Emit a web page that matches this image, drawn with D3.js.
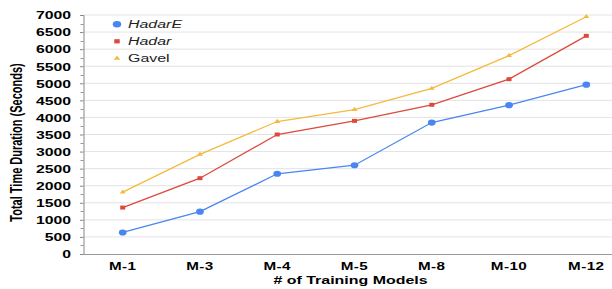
<!DOCTYPE html>
<html>
<head>
<meta charset="utf-8">
<script src="https://cdn.jsdelivr.net/npm/d3@7"></script>
<style>
  body { margin: 0; background: #fff; }
  text { font-family: Arial, "Liberation Sans", sans-serif; }
</style>
</head>
<body>
<div id="chart"></div>
<script>
// data
var models = ["M-1", "M-3", "M-4", "M-5", "M-8", "M-10", "M-12"];
var hadarE = [630, 1240, 2350, 2600, 3850, 4360, 4960];
var hadar = [1360, 2220, 3500, 3900, 4370, 5120, 6390];
var gavel = [1810, 2920, 3880, 4230, 4850, 5810, 6950];
var yTicks = [0, 500, 1000, 1500, 2000, 2500, 3000, 3500, 4000, 4500, 5000, 5500, 6000, 6500, 7000];
var seriesNames = ["HadarE", "Hadar", "Gavel"];

var svgWidth = 612;
var svgHeight = 289;
// the original image is stretched sideways, text too
var sx = 1.45;

var svg = d3.select("#chart")
  .append("svg")
  .attr("width", svgWidth)
  .attr("height", svgHeight);

var xScale = d3.scalePoint()
  .domain(models)
  .range([122.7, 586.3]);

var yScale = d3.scaleLinear()
  .domain([0, 7000])
  .range([254, 15]);

// gridlines
svg.append("g")
  .selectAll("line")
  .data(yTicks.slice(1))
  .enter()
  .append("line")
  .attr("x1", 84)
  .attr("x2", svgWidth)
  .attr("y1", d => yScale(d))
  .attr("y2", d => yScale(d))
  .attr("stroke", "#e3e3e3")
  .attr("stroke-width", 1);

// minor ticks on the y axis
var minor = d3.range(250, 7000, 500);
svg.append("g")
  .selectAll("line")
  .data(minor)
  .enter()
  .append("line")
  .attr("x1", 80.5)
  .attr("x2", 83.5)
  .attr("y1", d => Math.round(yScale(d)) + 0.5)
  .attr("y2", d => Math.round(yScale(d)) + 0.5)
  .attr("stroke", "#999");

// y axis
var leftAxis = d3.axisLeft(yScale)
  .tickValues(yTicks)
  .tickSize(3.5)
  .tickPadding(0)
  .tickFormat(d3.format("d"));

var yAxis = svg.append("g")
  .attr("transform", "translate(83.5,0)")
  .call(leftAxis);

yAxis.select(".domain").attr("stroke", "#888");
yAxis.selectAll(".tick line").attr("stroke", "#888");
yAxis.selectAll(".tick text")
  .attr("fill", "#000")
  .attr("font-size", "10.5px")
  .attr("font-weight", "bold")
  .attr("font-family", "Arial, 'Liberation Sans', sans-serif")
  .attr("x", null)
  .attr("dy", null)
  .attr("text-anchor", "end")
  .attr("transform", "translate(-12.5,3.8) scale(1.5,1)");

// x axis
svg.append("line")
  .attr("x1", 83)
  .attr("x2", svgWidth)
  .attr("y1", 254.5)
  .attr("y2", 254.5)
  .attr("stroke", "#999")
  .attr("stroke-width", 1.2);

svg.append("g")
  .selectAll("text")
  .data(models)
  .enter()
  .append("text")
  .attr("text-anchor", "middle")
  .attr("font-size", "10.5px")
  .attr("font-weight", "bold")
  .attr("letter-spacing", "0.3px")
  .attr("transform", d => "translate(" + xScale(d) + ",270) scale(" + sx + ",1)")
  .text(d => d);

// axis titles
svg.append("text")
  .attr("text-anchor", "middle")
  .attr("font-size", "11px")
  .attr("font-weight", "bold")
  .attr("transform", "translate(350.5,284) scale(" + sx + ",1)")
  .text("# of Training Models");

svg.append("text")
  .attr("text-anchor", "middle")
  .attr("font-size", "11px")
  .attr("font-weight", "bold")
  .attr("transform", "translate(21.5,142.5) rotate(-90) scale(1," + sx + ")")
  .text("Total Time Duration (Seconds)");

// lines and markers
var allSeries = [
  { name: "HadarE", values: hadarE, color: "#4a86f0", shape: d3.symbolCircle, size: 30, italic: true },
  { name: "Hadar", values: hadar, color: "#db4a3c", shape: d3.symbolSquare, size: 16, italic: true },
  { name: "Gavel", values: gavel, color: "#f4ba3e", shape: d3.symbolTriangle, size: 10, italic: false }
];

var line = d3.line()
  .x((d, i) => xScale(models[i]))
  .y(d => yScale(d));

allSeries.forEach(function(s) {
  svg.append("path")
    .datum(s.values)
    .attr("fill", "none")
    .attr("stroke", s.color)
    .attr("stroke-width", 1.3)
    .attr("d", line);

  svg.append("g")
    .selectAll("path")
    .data(s.values)
    .enter()
    .append("path")
    .attr("d", d3.symbol().type(s.shape).size(s.size))
    .attr("fill", s.color)
    .attr("transform", (d, i) => "translate(" + xScale(models[i]) + "," + yScale(d) + ") scale(1.25,1)");
});

// legend
var legend = svg.append("g");
allSeries.forEach(function(s, i) {
  var y = 24.3 + i * 17;
  legend.append("path")
    .attr("d", d3.symbol().type(s.shape).size(s.size * 1.1))
    .attr("fill", s.color)
    .attr("transform", "translate(117," + y + ") scale(1.3,1)");
  legend.append("text")
    .attr("font-size", "11px")
    .attr("font-style", s.italic ? "italic" : "normal")
    .attr("fill", "#222")
    .attr("transform", "translate(128," + (y + 4) + ") scale(" + sx + ",1)")
    .text(seriesNames[i]);
});
</script>
</body>
</html>
